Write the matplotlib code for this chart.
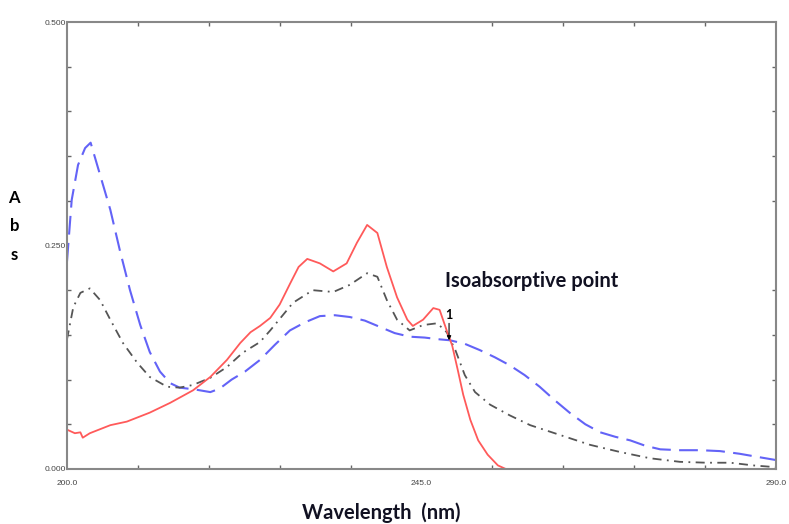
import numpy as np
import matplotlib
matplotlib.use("Agg")
import matplotlib.pyplot as plt

# Spectra (wavelength in nm, absorbance)
wl_blue = [200.0, 200.6, 201.4, 202.3, 203.0, 204.2, 205.5, 206.7, 208.0, 209.3, 210.5, 211.8,
           213.1, 214.3, 216.2, 218.2, 219.4, 220.9, 222.6, 224.5, 226.4, 228.3, 230.2, 232.1,
           234.0, 235.9, 237.8, 239.7, 241.6, 243.5, 245.4, 247.3, 248.6, 250.5, 252.4, 254.3,
           256.2, 258.1, 260.0, 261.9, 263.8, 265.8, 267.7, 269.6, 271.5, 273.4, 275.3, 277.8,
           280.4, 282.9, 285.4, 288.0, 290.0]
abs_blue = [0.232, 0.301, 0.340, 0.359, 0.365, 0.329, 0.290, 0.245, 0.200, 0.161, 0.131, 0.109,
            0.096, 0.091, 0.089, 0.086, 0.090, 0.100, 0.109, 0.122, 0.139, 0.155, 0.164, 0.171,
            0.172, 0.170, 0.166, 0.159, 0.152, 0.148, 0.147, 0.145, 0.144, 0.140, 0.133, 0.125,
            0.116, 0.105, 0.092, 0.077, 0.063, 0.050, 0.041, 0.036, 0.032, 0.026, 0.022, 0.021,
            0.021, 0.020, 0.017, 0.013, 0.010]

wl_black = [200.0, 200.8, 201.7, 202.9, 204.2, 205.5, 207.1, 208.9, 210.5, 212.7, 214.3, 216.0,
            218.2, 220.3, 222.3, 224.5, 225.8, 228.7, 231.2, 233.8, 235.9, 238.1, 239.4, 240.6,
            241.9, 243.5, 245.2, 247.0, 248.2, 249.3, 250.5, 251.8, 253.7, 256.2, 258.8, 262.6,
            266.4, 270.2, 274.0, 277.8, 281.2, 284.2, 287.1, 290.0]
abs_black = [0.145, 0.181, 0.197, 0.202, 0.189, 0.167, 0.141, 0.119, 0.103, 0.092, 0.091, 0.094,
             0.102, 0.114, 0.130, 0.142, 0.155, 0.186, 0.200, 0.198, 0.206, 0.219, 0.215, 0.189,
             0.167, 0.155, 0.161, 0.163, 0.153, 0.133, 0.105, 0.086, 0.072, 0.060, 0.049, 0.038,
             0.027, 0.019, 0.012, 0.008, 0.007, 0.007, 0.004, 0.002]

wl_red = [200.0, 201.0, 201.7, 202.0, 202.9, 205.5, 207.6, 210.5, 213.1, 216.0, 218.2, 220.3,
          222.0, 223.3, 224.5, 225.8, 227.0, 228.3, 229.4, 230.5, 232.1, 233.8, 235.5, 236.8,
          238.1, 239.4, 240.6, 241.9, 243.2, 243.9, 245.2, 246.5, 247.3, 248.2, 248.9, 249.6,
          250.3, 251.2, 252.2, 253.4, 254.7, 255.7]
abs_red = [0.044, 0.040, 0.041, 0.035, 0.040, 0.049, 0.053, 0.063, 0.074, 0.088, 0.103, 0.122,
           0.141, 0.153, 0.160, 0.169, 0.184, 0.207, 0.226, 0.235, 0.230, 0.221, 0.230, 0.253,
           0.273, 0.264, 0.226, 0.192, 0.167, 0.160, 0.167, 0.180, 0.178, 0.155, 0.138, 0.111,
           0.083, 0.055, 0.032, 0.016, 0.004, 0.000]

x_labels = [200.0, 245.0, 290.0]
y_labels = [0.0, 0.25, 0.5]
iso_point = (248.5, 0.144)

fig = plt.figure(figsize=(7.89, 5.24), dpi=100)
ax = fig.add_axes([0.0849, 0.105, 0.8986, 0.853])

ax.plot(wl_blue, abs_blue, color='#6363f7', lw=1.5, dashes=(9, 4))
ax.plot(wl_black, abs_black, color='#555555', lw=1.3, dashes=(5, 3, 1, 3))
ax.plot(wl_red, abs_red, color='#ff5a5a', lw=1.3)

ax.set_xlim(200, 290)
ax.set_ylim(0, 0.5)

# labels only on a few values, tick marks on the minor grid
ax.set_xticks(x_labels)
ax.set_xticklabels(['%.1f' % v for v in x_labels])
ax.set_yticks(y_labels)
ax.set_yticklabels(['%.3f' % v for v in y_labels])
ax.set_xticks(np.arange(200, 291, 9), minor=True)
ax.set_yticks(np.arange(0, 0.501, 0.05), minor=True)
ax.tick_params(which='major', length=0, labelsize=6, labelcolor='#444444', pad=8)
ax.tick_params(axis='y', which='major', pad=1)
ax.tick_params(which='minor', direction='in', length=3, width=1, color='#666666',
               top=True, right=True)
for lab in ax.get_xticklabels() + ax.get_yticklabels():
    lab.set_family('Liberation Sans')
for s in ax.spines.values():
    s.set_color('#888888')
    s.set_linewidth(1.5)

ax.annotate('1', xy=iso_point, xytext=(iso_point[0], iso_point[1] + 0.022),
            ha='center', va='bottom', fontsize=9, fontweight='bold', family='Lato',
            arrowprops=dict(arrowstyle='-|>', color='black', lw=0.8, mutation_scale=6,
                            shrinkA=0, shrinkB=0))
ax.text(248.0, 0.210, 'Isoabsorptive point', fontsize=14.5, fontweight='bold',
        family='Lato', color='#111122', va='center')

fig.text(0.018, 0.568, 'A\nb\ns', fontsize=12, fontweight='bold', family='Lato',
         ha='center', va='center', linespacing=1.95)
fig.text(0.483, 0.022, 'Wavelength  (nm)', fontsize=14.5, fontweight='bold', family='Lato',
         ha='center', va='center', color='#111122')

fig.savefig('out.png', dpi=100)
